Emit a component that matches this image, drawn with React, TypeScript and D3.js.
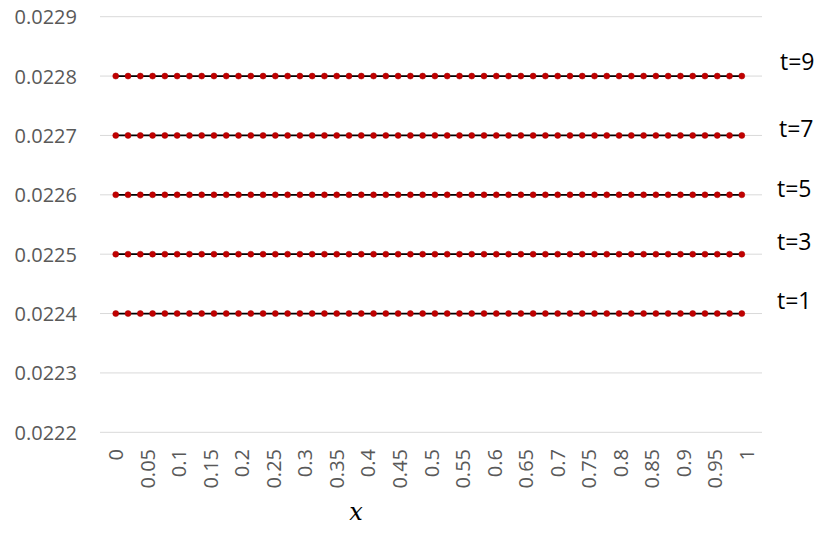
import React from "react";
import * as d3 from "d3";

// Tick labels on the category axis
const xTickLabels = ["0","0.05","0.1","0.15","0.2","0.25","0.3","0.35","0.4","0.45","0.5","0.55","0.6","0.65","0.7","0.75","0.8","0.85","0.9","0.95","1"];
const yTicks = [0.0222,0.0223,0.0224,0.0225,0.0226,0.0227,0.0228,0.0229];

// Series: each profile is flat (constant value at every x sample)
const seriesNames = ["t=1","t=3","t=5","t=7","t=9"];
const seriesValues = [0.0224,0.0225,0.0226,0.0227,0.0228];
const pointCount = 52;       // markers per line
const pointStep = 0.01947;   // spacing of samples in x units
// annotation positions (data units)
const labelY = [0.022423,0.022522,0.022612,0.022713,0.022825];

const W = 822, H = 533;
const left = 100, right = 762, top = 16.7, bottom = 432.3;

export default function App() {
  const band = (right - left) / xTickLabels.length;
  const x = d3.scaleLinear().domain([0, 1]).range([left + band / 2, right - band / 2]);
  const y = d3.scaleLinear().domain([0.0222, 0.0229]).range([bottom, top]);
  const line = d3.line<number>().x((_, i) => x(i * pointStep)).y((d) => y(d));
  const font = "'Open Sans', 'Liberation Sans', sans-serif";
  return (
    <svg width={W} height={H} style={{ position: "absolute", left: 0, top: 0, background: "#fff" }}>
      {yTicks.map((t) => (
        <g key={t}>
          <line x1={left} x2={right} y1={y(t)} y2={y(t)} stroke="#d9d9d9" strokeWidth={1} />
          <text x={77} y={y(t)} textAnchor="end" dominantBaseline="central" fill="#595959" fontSize={20} fontFamily={font}>
            {t.toFixed(4)}
          </text>
        </g>
      ))}
      {xTickLabels.map((l, i) => (
        <text key={l} transform={`translate(${x(i / (xTickLabels.length - 1))},449) rotate(-90)`} textAnchor="end" dominantBaseline="central" fill="#595959" fontSize={20} fontFamily={font}>
          {l}
        </text>
      ))}
      {seriesValues.map((v, si) => {
        const pts = Array.from({ length: pointCount }, () => v);
        return (
          <g key={si}>
            <path d={line(pts) || ""} fill="none" stroke="#000" strokeWidth={1.75} />
            {pts.map((p, i) => (
              <circle key={i} cx={x(i * pointStep)} cy={y(p)} r={3} fill="#c00000" stroke="#a80000" strokeWidth={0.5} />
            ))}
          </g>
        );
      })}
      {seriesNames.map((n, i) => (
        <text key={n} x={777 + (i >= 3 ? (i === 4 ? 3 : 2) : 0)} y={y(labelY[i])} dominantBaseline="central" fill="#000" fontSize={23} fontFamily={font}>
          {n}
        </text>
      ))}
      <text x={356} y={520} textAnchor="middle" fontStyle="italic" fontSize={24} fontFamily="'DejaVu Serif', 'Liberation Serif', serif" fill="#000">
        x
      </text>
    </svg>
  );
}
